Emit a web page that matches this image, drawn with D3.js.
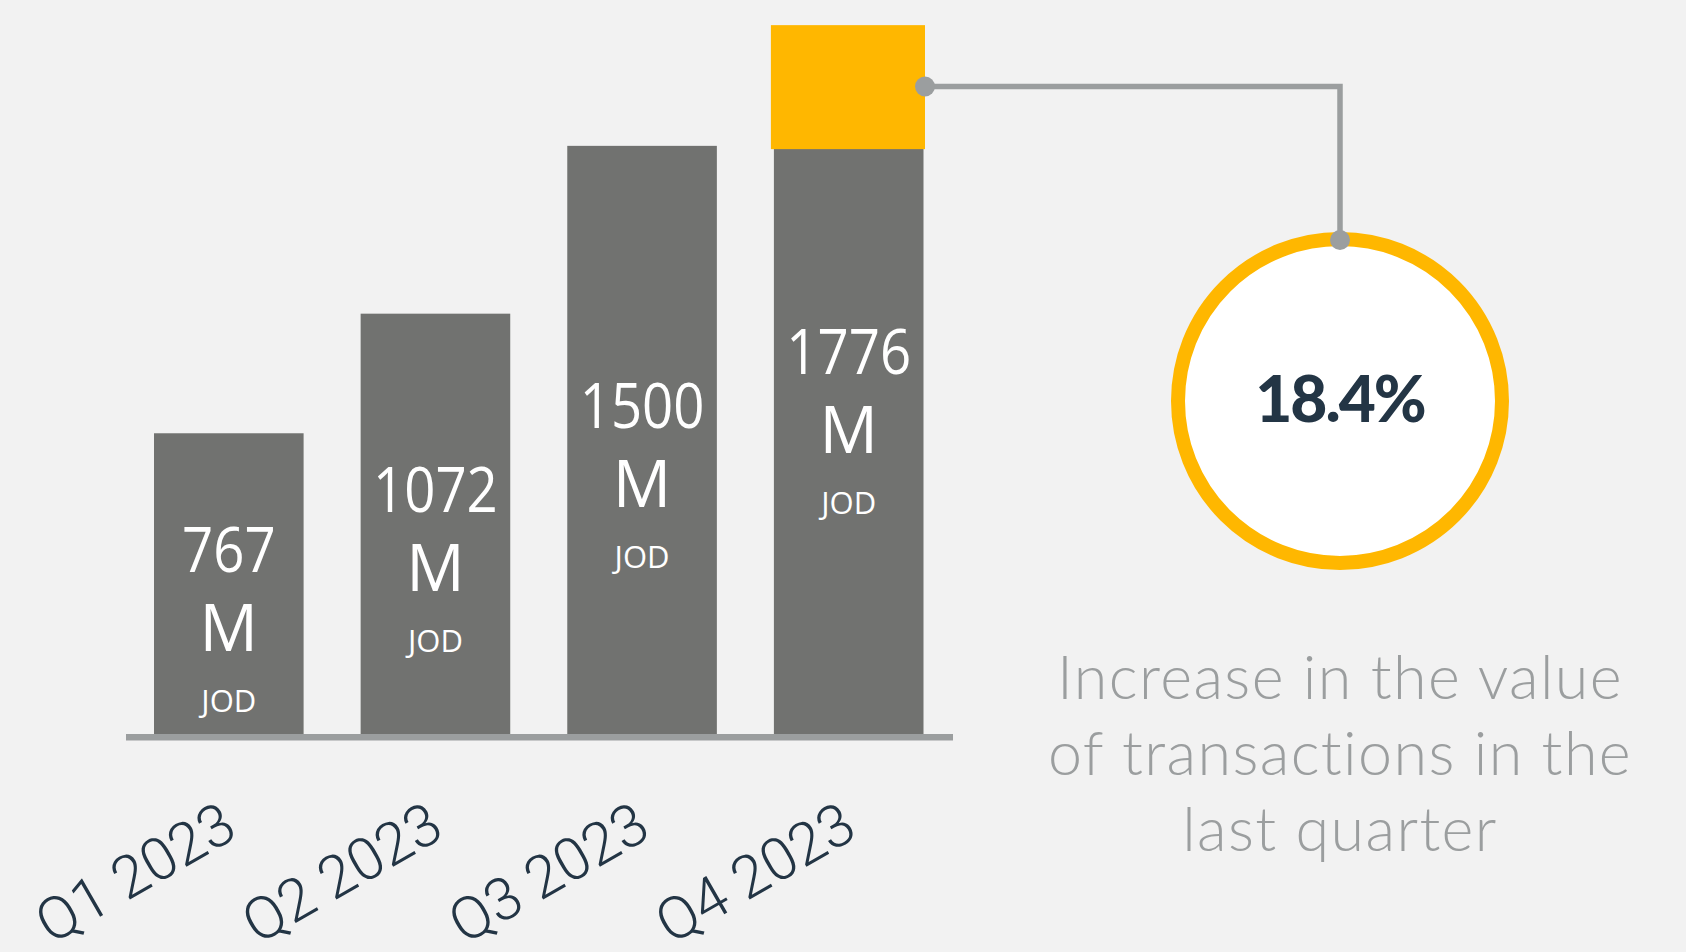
<!DOCTYPE html>
<html>
<head>
<meta charset="utf-8">
<script src="https://cdn.jsdelivr.net/npm/d3@7"></script>
<style>
  html, body { margin: 0; padding: 0; background: #f2f2f2; }
  svg { display: block; }
</style>
</head>
<body>
<div id="chart"></div>
<script>
// data
var quarters = ["Q1 2023", "Q2 2023", "Q3 2023", "Q4 2023"];
var values = [767, 1072, 1500, 1776];   // million JOD
var unitLine = "M";
var currencyLine = "JOD";
var growthLabel = "18.4%";
var captionLines = ["Increase in the value", "of transactions in the", "last quarter"];

var W = 1686, H = 952;
var GREY_BAR = "#717270", YELLOW = "#ffb700", LINE = "#9b9e9f", NAVY = "#233545";

var svg = d3.select("#chart").append("svg")
	.attr("width", W)
	.attr("height", H);

svg.append("rect").attr("width", W).attr("height", H).attr("fill", "#f2f2f2");

// scales
var x = d3.scaleBand()
	.domain(quarters)
	.range([154, 923.5])
	.paddingInner(0.276)
	.paddingOuter(0);

var y = d3.scaleLinear()
	.domain([0, 1872])
	.range([734, 0]);

var lastQ = quarters[quarters.length - 1];
var lastV = values[values.length - 1];

// bars
svg.selectAll("rect.bar")
	.data(values)
	.enter()
	.append("rect")
	.attr("class", "bar")
	.attr("x", function(d, i) { return x(quarters[i]); })
	.attr("y", function(d) { return y(d); })
	.attr("width", x.bandwidth())
	.attr("height", function(d) { return y(0) - y(d); })
	.attr("fill", GREY_BAR);

// highlight box on the last bar
svg.append("rect")
	.attr("x", x(lastQ) - 3)
	.attr("y", y(lastV) - 12.5)
	.attr("width", x.bandwidth() + 4.5)
	.attr("height", 124)
	.attr("fill", YELLOW);

// baseline
svg.append("rect")
	.attr("x", 126)
	.attr("y", y(0))
	.attr("width", 953 - 126)
	.attr("height", 6.5)
	.attr("fill", LINE);

// labels inside bars
var lbl = svg.selectAll("g.lbl")
	.data(values)
	.enter()
	.append("g")
	.attr("class", "lbl")
	.attr("transform", function(d, i) {
		var cx = x(quarters[i]) + x.bandwidth() / 2;
		var mid = (y(d) + y(0)) / 2;
		return "translate(" + cx + "," + (mid - 12) + ")";
	})
	.attr("fill", "#ffffff")
	.attr("text-anchor", "middle")
	.style("font-family", "'Open Sans', 'Noto Sans', sans-serif");

lbl.append("text")
	.attr("transform", "scale(0.88,1)")
	.style("font-size", "62px")
	.text(function(d) { return d; });

lbl.append("text")
	.attr("y", 79)
	.style("font-size", "65px")
	.text(unitLine);

lbl.append("text")
	.attr("y", 140)
	.style("font-size", "31px")
	.text(currencyLine);

// rotated category labels
svg.selectAll("text.cat")
	.data(quarters)
	.enter()
	.append("text")
	.attr("class", "cat")
	.attr("transform", function(d) {
		var cx = x(d) + x.bandwidth() / 2 + 11;
		return "translate(" + cx + ",836) rotate(-30)";
	})
	.attr("text-anchor", "end")
	.attr("fill", NAVY)
	.style("font-family", "Roboto, 'Open Sans', sans-serif")
	.style("font-weight", 300)
	.style("font-size", "59px")
	.text(function(d) { return d; });

// connector from highlight to circle
var cx0 = 1340, cy0 = 401, r0 = 162;
var startX = x(lastQ) + x.bandwidth() + 1.5, startY = 86.5;

svg.append("path")
	.attr("d", "M" + startX + "," + startY + "H" + cx0 + "V" + (cy0 - r0 + 1))
	.attr("fill", "none")
	.attr("stroke", LINE)
	.attr("stroke-width", 5.5);

svg.append("circle")
	.attr("cx", cx0)
	.attr("cy", cy0)
	.attr("r", r0)
	.attr("fill", "#ffffff")
	.attr("stroke", YELLOW)
	.attr("stroke-width", 14);

svg.selectAll("circle.dot")
	.data([[startX, startY], [cx0, cy0 - r0 + 1]])
	.enter()
	.append("circle")
	.attr("class", "dot")
	.attr("cx", function(d) { return d[0]; })
	.attr("cy", function(d) { return d[1]; })
	.attr("r", 10)
	.attr("fill", LINE);

svg.append("text")
	.attr("x", cx0)
	.attr("y", 422)
	.attr("text-anchor", "middle")
	.attr("fill", NAVY)
	.style("font-family", "Lato, 'Open Sans', sans-serif")
	.style("font-weight", 900)
	.style("font-size", "64px")
	.style("letter-spacing", "-2px")
	.text(growthLabel);

// caption
svg.selectAll("text.cap")
	.data(captionLines)
	.enter()
	.append("text")
	.attr("class", "cap")
	.attr("x", cx0)
	.attr("y", function(d, i) { return 699 + i * 76; })
	.attr("text-anchor", "middle")
	.attr("fill", LINE)
	.style("font-family", "Lato, 'Open Sans', sans-serif")
	.style("font-weight", 300)
	.style("font-size", "61px")
	.style("letter-spacing", "1.4px")
	.text(function(d) { return d; });
</script>
</body>
</html>
